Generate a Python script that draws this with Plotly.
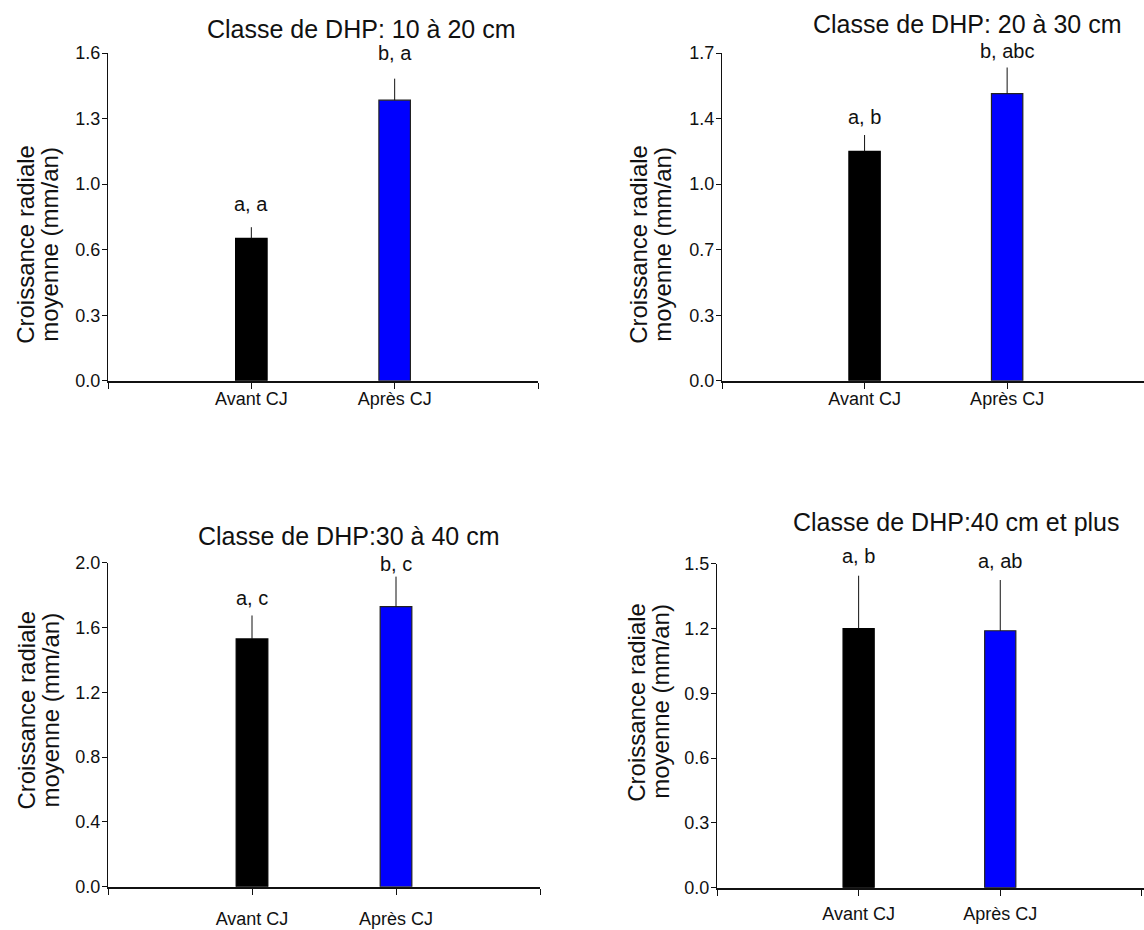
import numpy as np
import plotly.graph_objects as go

W, H = 1144, 930

# Data: mean radial growth (mm/an) before / after CJ, per DBH class
categories = ["Avant CJ", "Après CJ"]
titles = [
    "Classe de DHP: 10 à 20 cm",
    "Classe de DHP: 20 à 30 cm",
    "Classe de DHP:30 à 40 cm",
    "Classe de DHP:40 cm et plus",
]
means_10_20 = [0.695, 1.37]
err_10_20 = [0.055, 0.105]
means_20_30 = [1.19, 1.49]
err_20_30 = [0.085, 0.135]
means_30_40 = [1.53, 1.73]
err_30_40 = [0.145, 0.185]
means_40_plus = [1.20, 1.19]
err_40_plus = [0.245, 0.235]
letters_10_20 = ["a, a", "b, a"]
letters_20_30 = ["a, b", "b, abc"]
letters_30_40 = ["a, c", "b, c"]
letters_40_plus = ["a, b", "a, ab"]

ytick_10_20 = ["0.0", "0.3", "0.6", "1.0", "1.3", "1.6"]
ytick_20_30 = ["0.0", "0.3", "0.7", "1.0", "1.4", "1.7"]
ytick_30_40 = ["0.0", "0.4", "0.8", "1.2", "1.6", "2.0"]
ytick_40_plus = ["0.0", "0.3", "0.6", "0.9", "1.2", "1.5"]
ymax = [1.6, 1.7, 2.0, 1.5]

means = [means_10_20, means_20_30, means_30_40, means_40_plus]
errs = [err_10_20, err_20_30, err_30_40, err_40_plus]
letters = [letters_10_20, letters_20_30, letters_30_40, letters_40_plus]
yticks = [ytick_10_20, ytick_20_30, ytick_30_40, ytick_40_plus]

colors = ["#000000", "#0000ff"]
edge = ["#000000", "#222222"]

# panel boxes in pixels: (left, right, top, bottom, x-range max)
boxes = [
    (108, 538, 44, 379, 3.0),
    (722, 1144, 44, 379, 2.96),
    (108, 540, 565, 896, 3.0),
    (717, 1144, 566, 897, 3.015),
]
# title centers (px); y-title line centers (px) and vertical center
title_pos = [(361, 19), (967, 14), (349, 538), (956, 523)]
ytitle_x = [(26, 50), (639, 663), (27, 51), (637, 661)]
ytitle_y = [240, 240, 716, 707]
label_standoff = [-5, -5, 9, 3]
letter_shift = [(10, 13), (5, 4), (4, 0), (7, 6)]

FONT = "Liberation Sans, Arial, Helvetica, sans-serif"
INK = "#111111"

fig = go.Figure()
annotations = []
layout = dict(
    width=W, height=H,
    margin=dict(l=0, r=0, t=0, b=0),
    paper_bgcolor="white", plot_bgcolor="white",
    showlegend=False,
    font=dict(family=FONT, color=INK),
)

for i in range(4):
    left, right, top, bottom, xr = boxes[i]
    n = "" if i == 0 else str(i + 1)
    xa, ya = "x" + n, "y" + n
    fig.add_trace(go.Bar(
        x=[1, 2], y=means[i], width=0.22,
        marker=dict(color=colors, line=dict(color=edge, width=1.2)),
        error_y=dict(type="data", symmetric=False, array=errs[i],
                     arrayminus=[0, 0], color=INK, thickness=1, width=0),
        xaxis=xa, yaxis=ya, cliponaxis=False,
    ))
    tv = list(np.linspace(0, ymax[i], len(yticks[i])))
    layout["xaxis" + n] = dict(
        domain=[left / W, right / W], anchor=ya, range=[0, xr],
        tickmode="array", tickvals=[0, 1, 2, 3],
        ticktext=["", categories[0], categories[1], ""],
        ticks="outside", ticklen=6, tickwidth=1.2, tickcolor=INK,
        showline=True, linecolor=INK, linewidth=1.6,
        showgrid=False, zeroline=False, fixedrange=True,
        tickfont=dict(size=18, family=FONT, color=INK),
        ticklabelstandoff=label_standoff[i],
    )
    layout["yaxis" + n] = dict(
        domain=[1 - bottom / H, 1 - top / H], anchor=xa, range=[0, ymax[i]],
        tickmode="array", tickvals=tv, ticktext=yticks[i],
        ticks="outside", ticklen=5, tickwidth=1.2, tickcolor=INK,
        showline=True, linecolor=INK, linewidth=1.3,
        showgrid=False, zeroline=False, fixedrange=True,
        tickfont=dict(size=18, family=FONT, color=INK),
        ticklabelstandoff=-2,
    )
    # significance letters above each error bar
    for k in range(2):
        annotations.append(dict(
            x=k + 1, y=means[i][k] + errs[i][k], xref=xa, yref=ya,
            text=letters[i][k], showarrow=False, xanchor="center", yanchor="bottom",
            yshift=letter_shift[i][k], font=dict(size=20, family=FONT, color=INK),
        ))
    # panel title
    tx, ty = title_pos[i]
    annotations.append(dict(
        x=tx / W, y=1 - ty / H, xref="paper", yref="paper",
        text=titles[i], showarrow=False, xanchor="center", yanchor="middle",
        font=dict(size=25, family=FONT, color=INK),
    ))
    # y-axis title, two rotated lines
    for line, lx in zip(["Croissance radiale", "moyenne (mm/an)"], ytitle_x[i]):
        annotations.append(dict(
            x=lx / W, y=1 - ytitle_y[i] / H, xref="paper", yref="paper",
            text=line, showarrow=False, textangle=-90,
            xanchor="center", yanchor="middle",
            font=dict(size=24, family=FONT, color=INK),
        ))

layout["annotations"] = annotations
fig.update_layout(**layout)
fig.write_html("out.html")
